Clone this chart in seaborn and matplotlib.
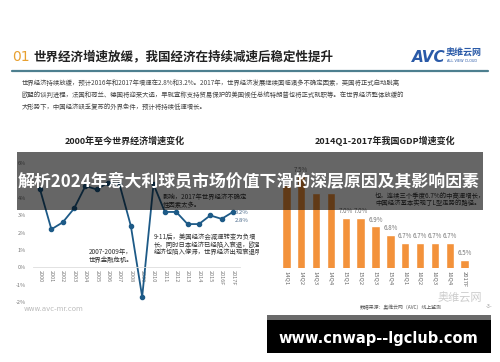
import pandas as pd
import seaborn as sns
import matplotlib.pyplot as plt
from matplotlib.patches import Rectangle

# world GDP growth, 2000 - 2017F (%)
years = ["2000", "2001", "2002", "2003", "2004", "2005", "2006", "2007", "2008",
         "2009", "2010", "2011", "2012", "2013", "2014", "2015", "2016F", "2017F"]
world_growth = [4.5, 2.2, 2.6, 3.4, 4.7, 4.5, 4.9, 4.8, 2.4,
                -1.7, 4.8, 3.2, 3.2, 2.5, 2.5, 3.0, 2.8, 3.2]
world_ticks = [-2, -1, 0, 1, 2, 3, 4, 6]

# China quarterly GDP growth (%)
quarters = ["14Q1", "14Q2", "14Q3", "14Q4", "15Q1", "15Q2", "15Q3", "15Q4",
            "16Q1", "16Q2", "16Q3", "16Q4", "2017F"]
gdp_growth = [7.4, 7.5, 7.3, 7.3, 7.0, 7.0, 6.9, 6.8, 6.7, 6.7, 6.7, 6.7, 6.5]
# labels hidden behind the banner in the picture
gdp_labels = ["", "7.5%", "", "", "7.0%", "7.0%", "6.9%", "6.8%",
              "6.7%", "6.7%", "6.7%", "6.7%", "6.5%"]

body_lines = [
    "世界经济持续放缓，预计2016年和2017年增速在2.8%和3.2%。2017年，世界经济发展继续面临诸多不确定因素，英国将正式启动脱离",
    "欧盟的谈判进程，法国和荷兰、德国将迎来大选，早就宣称支持贸易保护的美国候任总统特朗普也将正式就职等。在世界经济整体放缓的",
    "大形势下，中国经济缺乏复苏的外界条件，预计将持续低速增长。",
]

sns.set_style("white")
plt.rcParams["font.family"] = ["Noto Sans CJK SC", "DejaVu Sans"]

W, H = 500, 362
fig = plt.figure(figsize=(5, 3.62), dpi=100)
fig.patch.set_facecolor("white")


def rect(x0, y0, x1, y1):
    # pixel box -> figure fraction
    return [x0 / W, 1 - y1 / H, (x1 - x0) / W, (y1 - y0) / H]


# ---- left: world growth line
axl = fig.add_axes(rect(33, 160, 240, 302))
df_w = pd.DataFrame({"year": years, "growth": world_growth})
sns.pointplot(data=df_w, x="year", y="growth", color="#1d5a87", errorbar=None,
              markers="o", markersize=3, linewidth=1.3, ax=axl)
axl.set_ylim(-2, 6.2)
axl.set_xlim(-0.62, len(years) - 0.38)
axl.set_yticks(world_ticks)
axl.set_yticklabels([f"{t}%" for t in world_ticks])
for s in ["left", "top", "right"]:
    axl.spines[s].set_visible(False)
axl.spines["bottom"].set_position(("data", 0))
axl.spines["bottom"].set_color("#dddddd")
axl.spines["bottom"].set_linewidth(0.6)
axl.tick_params(length=0, labelsize=4, colors="#777777")
axl.tick_params(axis="x", rotation=270, pad=2)
axl.tick_params(axis="y", pad=5)
axl.set_xlabel("")
axl.set_ylabel("")
axl.patch.set_alpha(0)

# ---- right: China GDP bars
axr = fig.add_axes(rect(279, 168, 472, 268))
sns.barplot(x=quarters, y=gdp_growth, color="#f3923b", width=0.56,
            saturation=1, ax=axr)
axr.set_ylim(6.4, 7.6)
axr.bar_label(axr.containers[0], labels=gdp_labels,
              padding=2, fontsize=4.5, color="#777777")
sns.despine(ax=axr, left=True, bottom=True)
axr.set_yticks([])
axr.tick_params(length=0, labelsize=4.2, colors="#666666")
axr.tick_params(axis="x", rotation=270, pad=2)
axr.patch.set_alpha(0)

# ---- overlay in pixel coordinates
ov = fig.add_axes([0, 0, 1, 1], zorder=10)
ov.set_xlim(0, W)
ov.set_ylim(H, 0)
ov.axis("off")
ov.patch.set_alpha(0)

ov.text(12, 57, "01", fontsize=10, color="#e8a030", va="center", ha="left",
        family="DejaVu Sans")
ov.text(33, 57, "世界经济增速放缓，我国经济在持续减速后稳定性提升", fontsize=9,
        fontweight="bold", color="#222222", va="center", ha="left")
ov.plot([12, 488], [71, 71], color="#4d7f8f", lw=1.6)
ov.text(412, 57, "AVC", fontsize=11, fontweight="bold", style="italic",
        color="#2a5aa8", va="center", ha="left", family="DejaVu Sans")
ov.text(446, 53, "奥维云网", fontsize=6.5, fontweight="bold", color="#2a5aa8",
        va="center", ha="left")
ov.text(447, 61, "ALL VIEW CLOUD", fontsize=2.5, color="#2a5aa8",
        va="center", ha="left", family="DejaVu Sans")
for txt, y in zip(body_lines, [83, 95, 107]):
    ov.text(22, y, txt, fontsize=4.6, color="#444444", va="center", ha="left")

ov.text(125, 141, "2000年至今世界经济增速变化", fontsize=6.5, fontweight="bold",
        color="#222222", ha="center", va="center")
ov.text(385, 141, "2014Q1-2017年我国GDP增速变化", fontsize=6.5, fontweight="bold",
        color="#222222", ha="center", va="center")

ov.text(89, 252, "2007-2009年，", fontsize=4.6, color="#333333", va="center")
ov.text(89, 260, "世界金融危机。", fontsize=4.6, color="#333333", va="center")
for txt, y in zip(["9-11后，美国经济会减速转变为负增",
                   "长，同时日本经济已经陷入衰退，欧盟较",
                   "经济也陷入停滞，世界经济出现衰退明显。"], [237, 245, 252]):
    ov.text(154, y, txt, fontsize=4.6, color="#333333", va="center", zorder=2)
ov.add_patch(Rectangle((259, 230), 20, 30, facecolor="white", edgecolor="none",
                       zorder=3))
ov.text(163, 197, "影响，2017年世界经济不确定", fontsize=4.6, color="#333333",
        va="center", zorder=2)
ov.text(163, 205, "性因素太多。", fontsize=4.6, color="#333333", va="center",
        zorder=2)
ov.text(235, 212, "3.2%", fontsize=4.3, color="#4a6a8a", va="center")
ov.text(235, 220, "2.8%", fontsize=4.3, color="#4a6a8a", va="center")
ov.text(375, 196, "也，连续三个季度6.7%的中高速增长，", fontsize=4.6,
        color="#333333", va="center", zorder=2)
ov.text(375, 203, "中国经济基本实现了L型走势的路径。", fontsize=4.6,
        color="#333333", va="center", zorder=2)

# footer
ov.text(24, 309, "www.avc-mr.com", fontsize=5, color="#bbbbbb", va="center",
        family="DejaVu Sans")
ov.text(438, 298, "奥维云网", fontsize=8, color="#cccccc", va="center")
ov.text(360, 307, "数据来源：奥维云网（AVC）线上监测", fontsize=3.5,
        color="#555555", va="center")
ov.text(486, 307, "-3-", fontsize=3.5, color="#999999", va="center",
        family="DejaVu Sans")

# banner
ov.add_patch(Rectangle((17, 152), 466, 58, facecolor="black", alpha=0.6,
                       edgecolor="none", zorder=5))
ov.text(18, 181, "解析2024年意大利球员市场价值下滑的深层原因及其影响因素",
        fontsize=12.2, fontweight="bold", color="white", va="center",
        ha="left", zorder=6)

# bottom url box
ov.add_patch(Rectangle((267, 315), 224, 38, facecolor="black",
                       edgecolor="none", zorder=5))
ov.add_patch(Rectangle((267, 315), 224, 5, facecolor="#6a6a6a",
                       edgecolor="none", zorder=6))
ov.text(378, 338, "www.cnwap--lgclub.com", fontsize=10.5, fontweight="bold",
        color="white", ha="center", va="center", family="DejaVu Sans",
        zorder=7)

fig.savefig("out.png", dpi=100)
